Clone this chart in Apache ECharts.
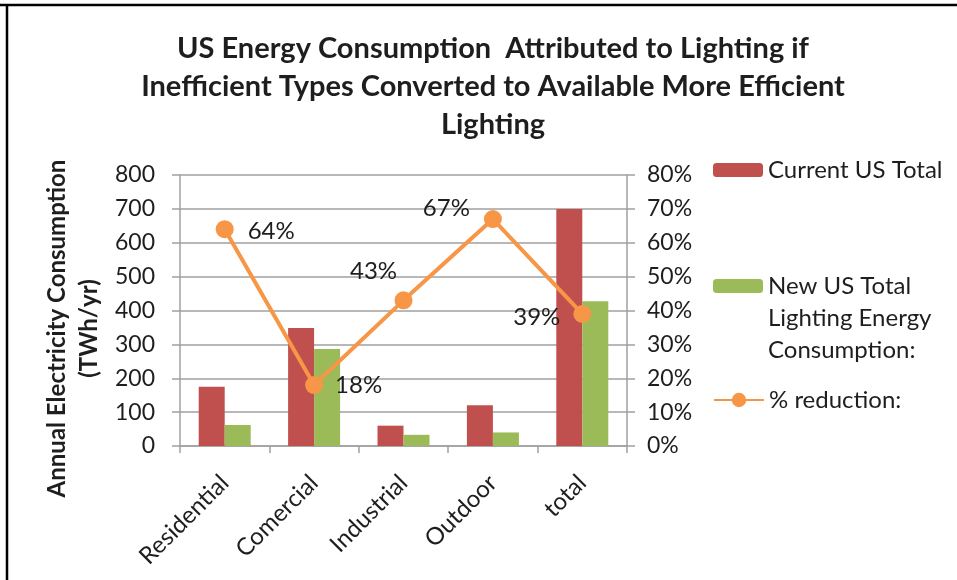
<!DOCTYPE html>
<html>
<head>
<meta charset="utf-8">
<script src="https://cdn.jsdelivr.net/npm/echarts@6/dist/echarts.min.js"></script>
<style>
  html, body { margin: 0; padding: 0; background: #fff; }
  #chart { width: 957px; height: 580px; }
</style>
</head>
<body>
<div id="chart"></div>
<script>
// Lighting energy by sector, before and after conversion to efficient lighting
var categories = ['Residential', 'Comercial', 'Industrial', 'Outdoor', 'total'];
var currentTotal = [175, 348, 60, 120, 700];        // TWh/yr
var newTotal = [62, 286, 33, 40, 427];              // TWh/yr
var reductionPct = [64, 18, 43, 67, 39];            // %
var leftTicks = [0, 100, 200, 300, 400, 500, 600, 700, 800];
var rightTicks = [0, 10, 20, 30, 40, 50, 60, 70, 80];

var FONT = 'Lato, "Open Sans", sans-serif';
var TXT = '#1e1e1e';
var AXIS = '#a0a0a0';

// label placement for each point of the reduction line
var labelPlacement = [
  { position: 'right', distance: 12, offset: [2, 2] },
  { position: 'right', distance: 12, offset: [0, 0] },
  { position: 'top', distance: 8, offset: [-30, 0] },
  { position: 'left', distance: 14, offset: [0, -11] },
  { position: 'left', distance: 13, offset: [0, 3] }
];

var lineData = reductionPct.map(function (v, i) {
  return {
    value: v,
    label: {
      position: labelPlacement[i].position,
      distance: labelPlacement[i].distance,
      offset: labelPlacement[i].offset
    }
  };
});

var legendText = { fontFamily: FONT, fontSize: 24, lineHeight: 32, color: TXT };

var chart = echarts.init(document.getElementById('chart'), null, { renderer: 'canvas' });

var option = {
  backgroundColor: '#fff',
  animation: false,
  title: {
    text: 'US Energy Consumption  Attributed to Lighting if\nInefficient Types Converted to Available More Efficient\nLighting',
    left: 488,
    textAlign: 'center',
    top: 25,
    textStyle: {
      fontFamily: FONT,
      fontWeight: 'bold',
      fontSize: 29,
      lineHeight: 38,
      color: TXT
    }
  },
  legend: [
    {
      data: ['Current US Total'],
      left: 713, top: 154, padding: 0,
      itemWidth: 50, itemHeight: 14, itemGap: 0,
      textStyle: legendText
    },
    {
      data: ['New US Total'],
      left: 713, top: 206, padding: 0,
      itemWidth: 50, itemHeight: 14, itemGap: 0,
      // two empty leading lines keep the first text line level with the swatch
      formatter: function () { return '\n\nNew US Total\nLighting Energy\nConsumption:'; },
      textStyle: legendText
    },
    {
      data: ['% reduction:'],
      left: 713, top: 384, padding: 0,
      itemWidth: 50, itemHeight: 18, itemGap: 0,
      textStyle: legendText
    }
  ],
  grid: { left: 180, right: 330, top: 175, bottom: 134 },
  xAxis: {
    type: 'category',
    data: categories,
    axisLine: { lineStyle: { color: AXIS, width: 1.5 } },
    axisTick: { show: true, length: 7, lineStyle: { color: AXIS, width: 1.5 } },
    axisLabel: {
      rotate: 45,
      margin: 33,
      interval: 0,
      fontFamily: FONT,
      fontSize: 24,
      color: TXT
    }
  },
  yAxis: [
    {
      type: 'value',
      min: leftTicks[0],
      max: leftTicks[leftTicks.length - 1],
      interval: 100,
      name: 'Annual Electricity Consumption\n(TWh/yr)',
      nameLocation: 'middle',
      nameGap: 75,
      nameRotate: 90,
      nameTextStyle: {
        fontFamily: FONT,
        fontWeight: 'bold',
        fontSize: 24,
        lineHeight: 32,
        color: TXT,
        padding: [0, 36, 0, 0]
      },
      axisLine: { show: true, lineStyle: { color: AXIS, width: 1.5 } },
      axisTick: { show: true, length: 8, lineStyle: { color: AXIS, width: 1.5 } },
      splitLine: { show: true, lineStyle: { color: AXIS, width: 1.5 } },
      axisLabel: {
        margin: 25,
        fontFamily: FONT,
        fontSize: 23,
        color: TXT
      }
    },
    {
      type: 'value',
      min: rightTicks[0],
      max: rightTicks[rightTicks.length - 1],
      interval: 10,
      position: 'right',
      axisLine: { show: true, lineStyle: { color: AXIS, width: 1.5 } },
      axisTick: { show: true, length: 8, lineStyle: { color: AXIS, width: 1.5 } },
      splitLine: { show: false },
      axisLabel: {
        margin: 20,
        fontFamily: FONT,
        fontSize: 23,
        color: TXT,
        formatter: '{value}%'
      }
    }
  ],
  series: [
    {
      name: 'Current US Total',
      type: 'bar',
      data: currentTotal,
      barWidth: 26,
      barGap: '0%',
      itemStyle: { color: '#c0504d' }
    },
    {
      name: 'New US Total',
      type: 'bar',
      data: newTotal,
      barWidth: 26,
      barGap: '0%',
      itemStyle: { color: '#9bbb59' }
    },
    {
      name: '% reduction:',
      type: 'line',
      yAxisIndex: 1,
      data: lineData,
      symbol: 'circle',
      symbolSize: 18,
      lineStyle: { color: '#f79646', width: 4 },
      itemStyle: { color: '#f79646' },
      label: {
        show: true,
        formatter: '{c}%',
        fontFamily: FONT,
        fontSize: 24,
        color: TXT
      },
      z: 5
    }
  ],
  graphic: [
    { type: 'line', shape: { x1: 0, y1: 5, x2: 957, y2: 5 }, style: { stroke: '#000', lineWidth: 2.5 } },
    { type: 'line', shape: { x1: 7, y1: 5, x2: 7, y2: 580 }, style: { stroke: '#000', lineWidth: 2.5 } }
  ]
};

chart.setOption(option);
</script>
</body>
</html>
